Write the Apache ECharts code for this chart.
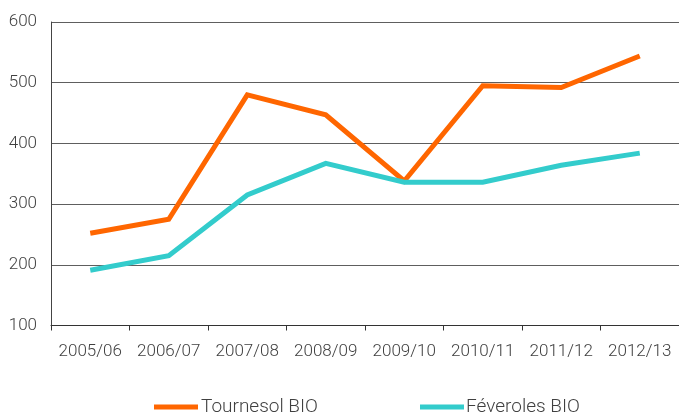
<!DOCTYPE html>
<html><head><meta charset="utf-8">
<script src="https://cdn.jsdelivr.net/npm/echarts@6/dist/echarts.min.js"></script>
<style>html,body{margin:0;padding:0;background:#fff}#c{width:679px;height:412px}</style>
</head><body><div id="c"></div>
<script>
var categories = ['2005/06','2006/07','2007/08','2008/09','2009/10','2010/11','2011/12','2012/13'];
var tournesol = [252, 275, 480, 447, 338, 495, 492, 544];
var feveroles = [191, 215, 315, 367, 336, 336, 364, 384];
var seriesNames = ['Tournesol BIO', 'Féveroles BIO'];
var yTicks = {min: 100, max: 600, interval: 100};

var font = 'Roboto';
var chart = echarts.init(document.getElementById('c'));
chart.setOption({
  animation: false,
  grid: {left: 51, top: 22, width: 630, height: 303.5, containLabel: false},
  legend: [
    {data: [seriesNames[0]], left: 149, top: 392, itemWidth: 44, itemHeight: 5, itemGap: 0,
     textStyle: {fontFamily: font, fontWeight: 300, fontSize: 19, lineHeight: 20, color: '#404040', padding: [0,0,0,-2]}, icon: 'rect'},
    {data: [seriesNames[1]], left: 415, top: 392, itemWidth: 44, itemHeight: 5, itemGap: 0,
     textStyle: {fontFamily: font, fontWeight: 300, fontSize: 19, lineHeight: 20, color: '#404040', padding: [0,0,0,-3]}, icon: 'rect'}
  ],
  xAxis: {
    type: 'category', data: categories, boundaryGap: true,
    axisLine: {lineStyle: {color: '#333', width: 1}},
    axisTick: {show: true, length: 5, alignWithLabel: false, lineStyle: {color: '#333'}},
    axisLabel: {fontFamily: font, fontWeight: 300, fontSize: 17, color: '#404040', margin: 18, interval: 0}
  },
  yAxis: {
    type: 'value', min: yTicks.min, max: yTicks.max, interval: yTicks.interval,
    axisLine: {show: true, lineStyle: {color: '#444', width: 1}},
    axisTick: {show: false},
    splitLine: {lineStyle: {color: '#5e5e5e', width: 1}},
    axisLabel: {fontFamily: font, fontWeight: 300, fontSize: 17, color: '#404040', margin: 14}
  },
  series: [
    {name: seriesNames[0], type: 'line', data: tournesol, symbol: 'none',
     lineStyle: {color: '#FF6600', width: 5, join: 'miter'}, itemStyle: {color: '#FF6600'}},
    {name: seriesNames[1], type: 'line', data: feveroles, symbol: 'none',
     lineStyle: {color: '#33CCCC', width: 5, join: 'miter'}, itemStyle: {color: '#33CCCC'}}
  ]
});
</script></body></html>
